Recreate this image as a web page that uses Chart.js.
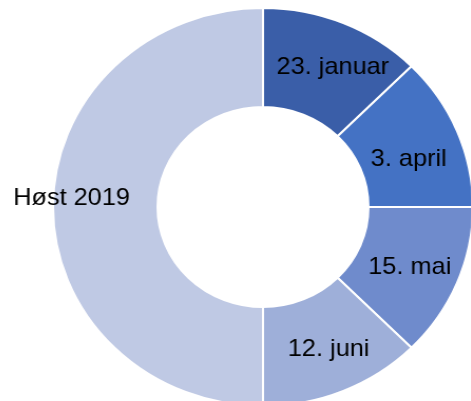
<!DOCTYPE html>
<html lang="no">
<head>
    <meta charset="UTF-8">
    <title>Datoer</title>
    <script src="https://cdn.jsdelivr.net/npm/chart.js"></script>
    <style>
        html, body { margin: 0; padding: 0; background: #fff; overflow: hidden; width: 471px; height: 401px; }
        /* the original picture is stretched a little horizontally */
        #chart { position: absolute; left: 13px; top: 9px; transform: scaleX(1.055); }
    </style>
</head>
<body>
    <canvas id="chart" width="500" height="396"></canvas>

    <script>
        const labels = ['23. januar', '3. april', '15. mai', '12. juni', 'Høst 2019'];
        const values = [1, 1, 1, 1, 4];
        const colors = ['#3a5ea8', '#4472c4', '#6f8bcc', '#9eafd9', '#bfc9e4'];
        // small nudges of each text from the middle of its slice (px)
        const labelNudge = [[9, -2], [0, 10], [1, 3], [5, 4], [-32, -9]];

        // draw the category name on each slice
        const sliceLabels = {
            id: 'sliceLabels',
            afterDatasetsDraw(chart) {
                const ctx = chart.ctx;
                const arcs = chart.getDatasetMeta(0).data;
                ctx.save();
                ctx.font = '24px "Liberation Sans", Arial, sans-serif';
                ctx.fillStyle = '#000';
                ctx.textAlign = 'center';
                ctx.textBaseline = 'middle';
                arcs.forEach((arc, i) => {
                    const p = arc.getProps(['x', 'y', 'startAngle', 'endAngle', 'innerRadius', 'outerRadius']);
                    const a = (p.startAngle + p.endAngle) / 2;
                    const r = (p.innerRadius + p.outerRadius) / 2;
                    const x = p.x + Math.cos(a) * r + labelNudge[i][0];
                    const y = p.y + Math.sin(a) * r + labelNudge[i][1];
                    ctx.fillText(labels[i], x, y);
                });
                ctx.restore();
            }
        };

        new Chart(document.getElementById('chart'), {
            type: 'doughnut',
            data: {
                labels: labels,
                datasets: [{
                    data: values,
                    backgroundColor: colors,
                    borderColor: '#ffffff',
                    borderWidth: 2
                }]
            },
            options: {
                responsive: false,
                animation: false,
                radius: 199,
                cutout: 99,
                layout: { padding: 0 },
                plugins: {
                    legend: { display: false },
                    tooltip: { enabled: false }
                }
            },
            plugins: [sliceLabels]
        });
    </script>
</body>
</html>
